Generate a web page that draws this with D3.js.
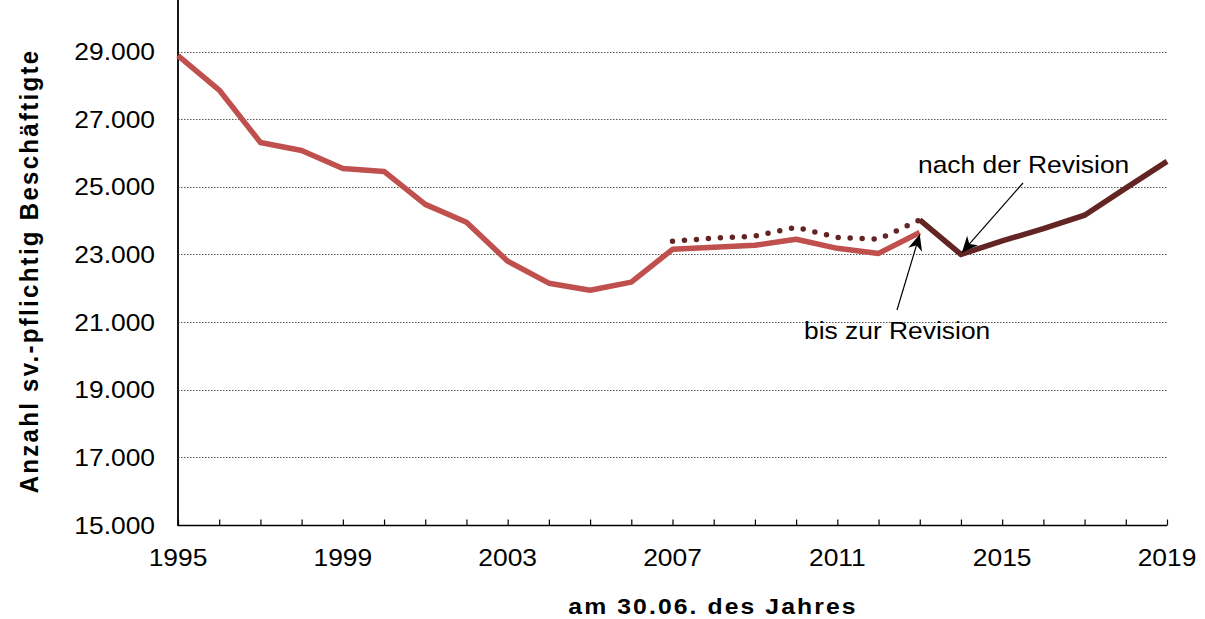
<!DOCTYPE html>
<html>
<head>
<meta charset="utf-8">
<script src="https://cdn.jsdelivr.net/npm/d3@7"></script>
<style>
  body { margin: 0; background: #fff; }
  text { font-family: "Liberation Sans", Arial, sans-serif; }
</style>
</head>
<body>
<svg id="chart" width="1205" height="619"></svg>
<script>
// data
var years = d3.range(1995, 2020);
var bisRevision = [28880, 27860, 26310, 26075, 25540, 25455, 24480, 23950, 22800, 22150,
                   21940, 22180, 23150, 23210, 23270, 23450, 23180, 23030, 23650];
var revYears = d3.range(2007, 2020);
var nachRevision = [23390, 23480, 23540, 23800, 23500, 23450, 24020, 23000, 23400, 23760,
                    24160, 24960, 25750];
var yTicks = [15000, 17000, 19000, 21000, 23000, 25000, 27000, 29000];
var xTickLabels = [1995, 1999, 2003, 2007, 2011, 2015, 2019];

var svg = d3.select("#chart"),
    left = 178, right = 1167, top = 18, bottom = 525,
    sx = 1.1; // text in the original is a bit wider than tall

var x = d3.scaleLinear().domain([1995, 2019]).range([left, right]);
var y = d3.scaleLinear().domain([15000, 29000]).range([bottom, 51.5]);

var fmt = d3.formatLocale({decimal: ",", thousands: ".", grouping: [3], currency: ["", "€"]}).format(",.0f");

// helper: place a text at (px,py), stretched horizontally
function place(px, py, rot) {
  return "translate(" + px + "," + py + ") scale(" + sx + ",1)" + (rot ? " rotate(" + rot + ")" : "");
}

// gridlines
svg.append("g")
  .selectAll("line")
  .data(yTicks.slice(1))
  .enter().append("line")
  .attr("x1", left).attr("x2", right)
  .attr("y1", function(d){ return Math.round(y(d)) + 0.5; })
  .attr("y2", function(d){ return Math.round(y(d)) + 0.5; })
  .attr("stroke", "#555")
  .attr("stroke-width", 1)
  .attr("stroke-dasharray", "1.5,1.5");

// y labels
svg.append("g")
  .selectAll("text")
  .data(yTicks)
  .enter().append("text")
  .attr("transform", function(d){ return place(155, y(d) + 8.5); })
  .attr("text-anchor", "end")
  .attr("font-size", 24)
  .attr("fill", "#000")
  .text(function(d){ return fmt(d); });

// x axis
var xAxis = d3.axisTop(x)
  .tickValues(years)
  .tickSize(6)
  .tickFormat("");
var gx = svg.append("g")
  .attr("transform", "translate(0," + (bottom + 0.5) + ")")
  .call(xAxis);
gx.select(".domain").attr("stroke", "#000").attr("stroke-width", 1.5)
  .attr("d", "M" + left + ",0H" + right);
gx.selectAll(".tick line").attr("stroke", "#000").attr("stroke-width", 1.2);

svg.append("g")
  .selectAll("text")
  .data(xTickLabels)
  .enter().append("text")
  .attr("transform", function(d){ return place(x(d), 565.5); })
  .attr("text-anchor", "middle")
  .attr("font-size", 24)
  .text(function(d){ return d; });

// y axis line
svg.append("line")
  .attr("x1", left).attr("x2", left)
  .attr("y1", top).attr("y2", bottom + 1)
  .attr("stroke", "#000").attr("stroke-width", 1.8);

// lines
var line = d3.line()
  .x(function(d){ return x(d[0]); })
  .y(function(d){ return y(d[1]); });

var bisData = years.slice(0, bisRevision.length).map(function(yr, i){ return [yr, bisRevision[i]]; });
var nachData = revYears.map(function(yr, i){ return [yr, nachRevision[i]]; });

svg.append("path")
  .datum(bisData)
  .attr("d", line)
  .attr("fill", "none")
  .attr("stroke", "#C0504D")
  .attr("stroke-width", 5.5)
  .attr("stroke-linejoin", "round");

// revised values, dotted until 2013, solid afterwards
svg.append("path")
  .datum(nachData.filter(function(d){ return d[0] <= 2013; }))
  .attr("d", line)
  .attr("fill", "none")
  .attr("stroke", "#632523")
  .attr("stroke-width", 5.5)
  .attr("stroke-linecap", "round")
  .attr("stroke-dasharray", "0,12");

svg.append("path")
  .datum(nachData.filter(function(d){ return d[0] >= 2013; }))
  .attr("d", line)
  .attr("fill", "none")
  .attr("stroke", "#632523")
  .attr("stroke-width", 5.5)
  .attr("stroke-linejoin", "miter");

// annotations
var defs = svg.append("defs");
defs.append("marker")
  .attr("id", "arr")
  .attr("viewBox", "0 0 10 10")
  .attr("refX", 10).attr("refY", 5)
  .attr("markerWidth", 16).attr("markerHeight", 16)
  .attr("markerUnits", "userSpaceOnUse")
  .attr("orient", "auto")
  .append("path")
  .attr("d", "M0,0.5L10,5L0,9.5L3,5Z")
  .attr("fill", "#000");

svg.append("line")
  .attr("x1", 1023).attr("y1", 183)
  .attr("x2", x(2014) + 1).attr("y2", y(23000) - 2)
  .attr("stroke", "#000").attr("stroke-width", 1.2)
  .attr("marker-end", "url(#arr)");

svg.append("line")
  .attr("x1", 897).attr("y1", 310)
  .attr("x2", x(2013)).attr("y2", y(23650) + 2)
  .attr("stroke", "#000").attr("stroke-width", 1.2)
  .attr("marker-end", "url(#arr)");

svg.append("text")
  .attr("transform", place(918, 173))
  .attr("font-size", 24)
  .text("nach der Revision");

svg.append("text")
  .attr("transform", place(804, 339))
  .attr("font-size", 24)
  .text("bis zur Revision");

// axis titles
svg.append("text")
  .attr("transform", place(713, 614))
  .attr("text-anchor", "middle")
  .attr("font-size", 22.5)
  .attr("font-weight", "bold")
  .attr("letter-spacing", 1.9)
  .text("am 30.06. des Jahres");

svg.append("text")
  .attr("transform", place(37.5, 271, -90))
  .attr("text-anchor", "middle")
  .attr("font-size", 24)
  .attr("font-weight", "bold")
  .attr("letter-spacing", 2.3)
  .text("Anzahl sv.-pflichtig Beschäftigte");
</script>
</body>
</html>
